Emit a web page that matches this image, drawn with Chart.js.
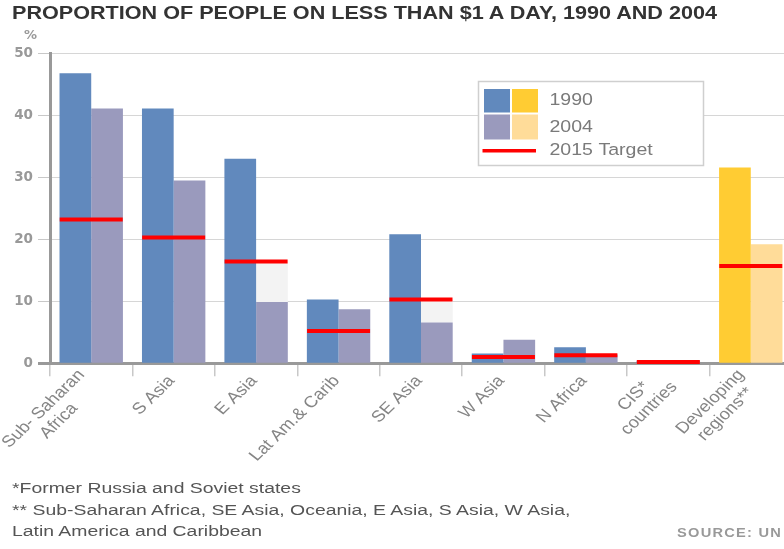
<!DOCTYPE html>
<html>
<head>
<meta charset="utf-8">
<script src="https://cdn.jsdelivr.net/npm/chart.js@4/dist/chart.umd.min.js"></script>
<style>
  html, body { margin:0; padding:0; background:#fff; }
  body { width:784px; height:549px; overflow:hidden; position:relative; font-family:"Liberation Sans", Arial, sans-serif; }
  #wrap { position:absolute; left:0; top:0; width:792px; height:549px; }
  .txt { position:absolute; white-space:nowrap; transform-origin:0 0; }
  #title { left:12px; top:4px; font-size:18px; line-height:18px; font-weight:bold; color:#333; transform:scaleX(1.2); }
  #pct { left:24px; top:28px; font-size:13px; line-height:13px; font-weight:bold; color:#999; font-family:"DejaVu Sans", sans-serif; }
  #notes { left:12px; top:476.8px; font-size:15.4px; line-height:21.7px; color:#555; transform:scaleX(1.26); }
  #src { right:2px; top:527px; font-size:12px; line-height:12px; font-weight:bold; color:#999; letter-spacing:1px; transform-origin:100% 0; transform:scaleX(1.22); }
</style>
</head>
<body>
<div id="wrap"><canvas id="c" width="792" height="549"></canvas></div>
<div id="title" class="txt">PROPORTION OF PEOPLE ON LESS THAN $1 A DAY, 1990 AND 2004</div>
<div id="pct" class="txt">%</div>
<div id="notes" class="txt">*Former Russia and Soviet states<br>** Sub-Saharan Africa, SE Asia, Oceania, E Asia, S Asia, W Asia,<br>Latin America and Caribbean</div>
<div id="src" class="txt">SOURCE: UN</div>
<script>
const categories = [['Sub- Saharan', 'Africa'], 'S Asia', 'E Asia', 'Lat Am.& Carib', 'SE Asia', 'W Asia', 'N Africa', ['CIS*', 'countries'], ['Developing', 'regions**']];
const values1990 = [46.8, 41.1, 33.0, 10.3, 20.8, 1.6, 2.6, 0.4, 31.6];
const values2004 = [41.1, 29.5, 9.9, 8.7, 6.6, 3.8, 1.4, 0.4, 19.2];
const target2015 = [23.2, 20.3, 16.4, 5.2, 10.3, 1.0, 1.3, 0.2, 15.7];
const yTicks = [0, 10, 20, 30, 40, 50];
const seriesLabels = ['1990', '2004', '2015 Target'];

const BLUE = '#6189bd', PURPLE = '#9a9abd', YELLOW = '#ffcc33', LYELLOW = '#ffdc99', RED = '#ff0000', GAP = '#f3f3f3';
const lastIdx = categories.length - 1;
const gapToTarget = values2004.map((v, i) => (target2015[i] > v ? +(target2015[i] - v).toFixed(2) : 0));

const legendPlugin = {
  id: 'customLegend',
  afterDraw(chart) {
    const ctx = chart.ctx;
    ctx.save();
    ctx.fillStyle = '#fff';
    ctx.fillRect(478.5, 81.5, 225, 84);
    ctx.strokeStyle = '#cfcfcf';
    ctx.lineWidth = 1.5;
    ctx.strokeRect(478.5, 81.5, 225, 84);
    ctx.fillStyle = BLUE; ctx.fillRect(484, 89, 26, 23.5);
    ctx.fillStyle = YELLOW; ctx.fillRect(512, 89, 26, 23.5);
    ctx.fillStyle = PURPLE; ctx.fillRect(484, 114.5, 26, 25);
    ctx.fillStyle = LYELLOW; ctx.fillRect(512, 114.5, 26, 25);
    ctx.strokeStyle = RED; ctx.lineWidth = 3.5;
    ctx.beginPath(); ctx.moveTo(482.5, 150.7); ctx.lineTo(536, 150.7); ctx.stroke();
    ctx.fillStyle = '#7a7a7a';
    ctx.font = '16.3px "Liberation Sans", Arial, sans-serif';
    ctx.textBaseline = 'alphabetic';
    const ys = [105, 131.7, 155];
    seriesLabels.forEach((t, i) => {
      ctx.save(); ctx.translate(549.5, ys[i]); ctx.scale(1.2, 1); ctx.fillText(t, 0, 0); ctx.restore();
    });
    ctx.restore();
  }
};

const xLabelPlugin = {
  id: 'xLabels',
  afterDraw(chart) {
    const ctx = chart.ctx, xs = chart.scales.x;
    ctx.save();
    ctx.font = '16px "Liberation Sans", Arial, sans-serif';
    ctx.fillStyle = '#858585';
    ctx.textAlign = 'center';
    ctx.textBaseline = 'middle';
    categories.forEach((lab, i) => {
      const lines = Array.isArray(lab) ? lab : [lab];
      const cx = xs.getPixelForValue(i) - 2;
      const cy = xs.top + 15;
      ctx.save();
      ctx.translate(cx, cy);
      ctx.scale(1.15, 1);
      ctx.rotate(-48 * Math.PI / 180);
      const w = Math.max(...lines.map(l => ctx.measureText(l).width));
      lines.forEach((l, j) => ctx.fillText(l, -w / 2, (j - (lines.length - 1) / 2) * 18));
      ctx.restore();
    });
    ctx.restore();
  }
};

new Chart(document.getElementById('c'), {
  type: 'bar',
  data: {
    labels: categories,
    datasets: [
      { label: seriesLabels[0], data: values1990, stack: 'a', order: 1,
        backgroundColor: values1990.map((_, i) => i === lastIdx ? YELLOW : BLUE), borderWidth: 0 },
      { label: seriesLabels[1], data: values2004, stack: 'b', order: 2,
        backgroundColor: values2004.map((_, i) => i === lastIdx ? LYELLOW : PURPLE), borderWidth: 0 },
      { label: 'gap', data: gapToTarget, stack: 'b', order: 3, backgroundColor: GAP, borderWidth: 0 },
      { type: 'line', label: seriesLabels[2], data: target2015, stack: 'target', order: 0,
        showLine: false, pointStyle: 'line', pointRadius: 31.5, pointHoverRadius: 31.5,
        pointBorderWidth: 4, pointBorderColor: RED, pointBackgroundColor: RED, clip: false }
    ]
  },
  options: {
    responsive: false,
    animation: false,
    devicePixelRatio: 1,
    layout: { autoPadding: false, padding: { top: 53.3, left: 0, right: 0, bottom: 0 } },
    datasets: { bar: { categoryPercentage: 0.769, barPercentage: 1 } },
    plugins: { legend: { display: false }, tooltip: { enabled: false } },
    scales: {
      x: {
        offset: true,
        ticks: { display: false },
        grid: { offset: true, drawOnChartArea: false, drawTicks: true, tickLength: 13, color: '#c8c8c8', lineWidth: 1.5 },
        border: { display: true, color: '#999', width: 3 },
        afterFit(s) { s.height = 549 - 363.3; }
      },
      y: {
        stacked: true,
        min: yTicks[0], max: yTicks[yTicks.length - 1],
        afterBuildTicks(s) { s.ticks = yTicks.map(v => ({ value: v })); },
        ticks: { color: '#999', padding: 5, font: { family: 'DejaVu Sans', weight: 'bold', size: 13.5 } },
        grid: { color: '#d6d6d6', lineWidth: 1, tickLength: 12,
          tickColor: c => (c.tick && c.tick.value === 0 ? '#999' : '#c8c8c8'),
          tickWidth: c => (c.tick && c.tick.value === 0 ? 3 : 1) },
        border: { display: true, color: '#999', width: 3 },
        afterFit(s) { s.width = 50; }
      }
    }
  },
  plugins: [legendPlugin, xLabelPlugin]
});
</script>
</body>
</html>
